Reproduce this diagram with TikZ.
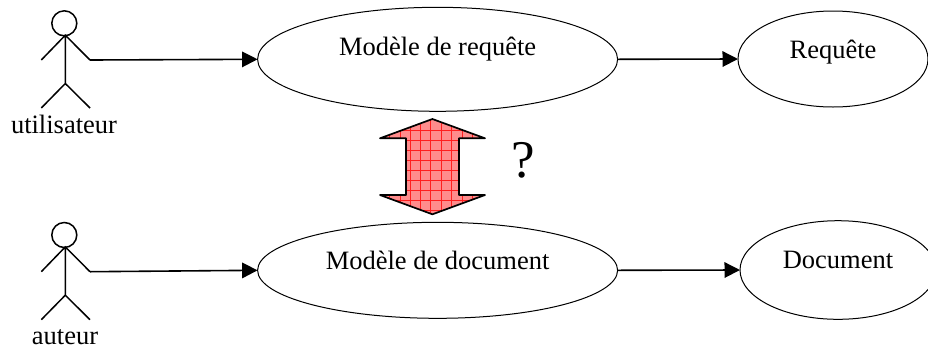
\documentclass[tikz,border=0pt]{standalone}
\usepackage{fontspec}
\setmainfont{Liberation Serif}
\usetikzlibrary{arrows.meta,shapes.geometric}
\definecolor{gridred}{RGB}{255,30,30}
\definecolor{fillred}{RGB}{255,140,140}
\tikzset{
 x=1pt,y=-1pt,
 usecase/.style={draw,ellipse,line width=1pt,inner sep=0pt,outer sep=0pt,text height=0pt,text depth=0pt,font=\fontsize{26.5}{30}\selectfont},
 flow/.style={line width=1.6pt,-{Triangle[length=15.5pt,width=15.5pt]}},
 limb/.style={line width=1.5pt},
 headshape/.style={draw,circle,line width=1.5pt,minimum size=25pt,inner sep=0pt,outer sep=0pt},
 lbl/.style={font=\fontsize{26.5}{30}\selectfont,inner sep=0pt,anchor=base}
}
\newcommand{\stickfig}[2]{%
 \node[headshape] (#1head) at (64.3,#2+23.3) {};
 \coordinate (#1neck) at (65.3,#2+35.2);
 \coordinate (#1hip) at (65.3,#2+83.5);
 \coordinate (#1la) at (41.3,#2+60);
 \coordinate (#1ra) at (90,#2+60);
 \coordinate (#1ll) at (41.3,#2+108);
 \coordinate (#1rl) at (90,#2+108);
 \draw[limb] (#1neck) -- (#1hip) (#1la) -- (#1neck) -- (#1ra) (#1ll) -- (#1hip) -- (#1rl);
}
\begin{document}
\begin{tikzpicture}
\useasboundingbox (0,0) rectangle (928,349);
\stickfig{u}{0}
\stickfig{a}{211.7}
\node[lbl] (ulabel) at (64,133) {utilisateur};
\node[lbl] (alabel) at (65,344) {auteur};
\node[usecase,minimum width=360pt,minimum height=104pt] (mreq) at (437.6,59.3) {\raisebox{4.3pt}{Modèle de requête}};
\node[usecase,minimum width=190pt,minimum height=96pt] (req) at (833,59) {\raisebox{1pt}{Requête}};
\node[usecase,minimum width=360pt,minimum height=96pt] (mdoc) at (437.6,270.3) {\raisebox{1.3pt}{Modèle de document}};
\node[usecase,minimum width=196pt,minimum height=98.6pt] (doc) at (838,270) {\raisebox{2pt}{Document}};
\draw[flow] (ura) -- (mreq.west);
\draw[flow] (ara) -- (mdoc.west);
\draw[flow] (mreq.east) -- (req.west);
\draw[flow] (mdoc.east) -- (doc.west);
\begin{scope}
 \clip (432.4,119) -- (485,138.3) -- (459,138.3) -- (459,195) -- (485,195) -- (432.4,214.3) -- (380,195) -- (406,195) -- (406,138.3) -- (380,138.3) -- cycle;
 \fill[fillred] (375,115) rectangle (490,218);
 \foreach \gx in {389.5,400,410,420.2,430.7,441.5,451.7,462,472.5}
  \draw[gridred,line width=.6pt] (\gx,115) -- (\gx,218);
 \foreach \gy in {130,140,150,160,170,180,190,200.5,210.5}
  \draw[gridred,line width=.6pt] (375,\gy) -- (490,\gy);
\end{scope}
\draw[line width=1.7pt,line join=round] (432.4,119) -- (485,138.3) -- (459,138.3) -- (459,195) -- (485,195) -- (432.4,214.3) -- (380,195) -- (406,195) -- (406,138.3) -- (380,138.3) -- cycle;
\node[font=\fontsize{53}{60}\selectfont,inner sep=0pt,anchor=base] (qmark) at (523.5,177) {?};
\end{tikzpicture}
\end{document}
